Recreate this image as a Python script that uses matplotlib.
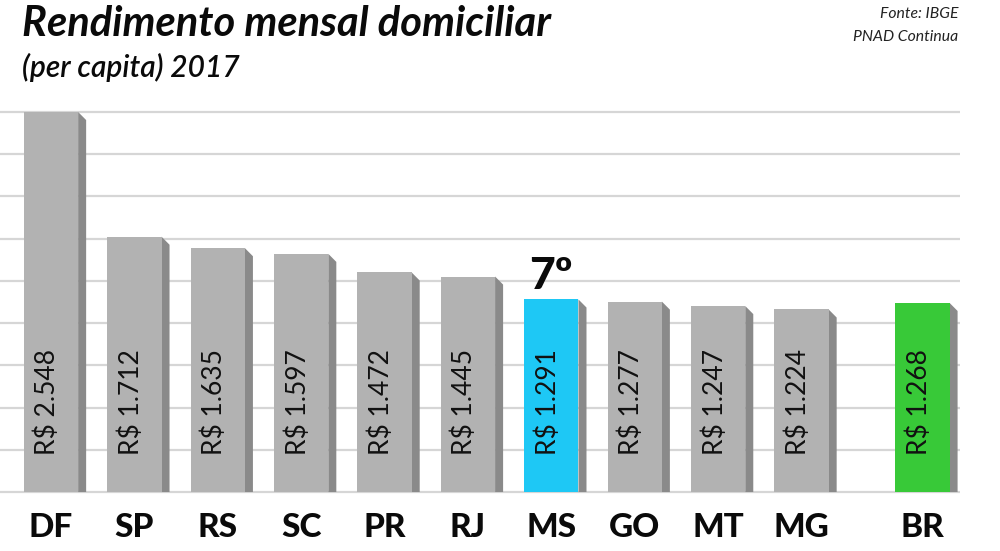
import matplotlib
matplotlib.use("Agg")
import matplotlib.pyplot as plt
from matplotlib.patches import Polygon, Rectangle
import numpy as np

states = ['DF', 'SP', 'RS', 'SC', 'PR', 'RJ', 'MS', 'GO', 'MT', 'MG', 'BR']
values = [2548, 1712, 1635, 1597, 1472, 1445, 1291, 1277, 1247, 1224, 1268]
positions = [0, 1, 2, 3, 4, 5, 6, 7, 8, 9, 10.45]
highlight = {'MS': '#1ec8f5', 'BR': '#38c938'}
rank_label = ('MS', '7º')

GREY = '#b2b2b2'
SIDE = '#8a8a8a'
GRID = '#d6d6d6'

fig = plt.figure(figsize=(10, 5.51), dpi=100)
ax = fig.add_axes([0.0, 0.0989, 0.96, 0.7119])
ax.set_xlim(-0.612, 10.90)
ax.set_ylim(-30, 2600)

ax.set_yticks(np.linspace(0, 2548, 10))
ax.yaxis.grid(True, color=GRID, linewidth=1.6, zorder=0)
ax.set_axisbelow(True)
ax.tick_params(axis='y', length=0, labelleft=False)
for s in ax.spines.values():
    s.set_visible(False)

w = 0.65
dx = 0.096
dy = 54
for st, v, x in zip(states, values, positions):
    face = highlight.get(st, GREY)
    xl = x - w / 2
    xr = x + w / 2
    ax.add_patch(Polygon([(xr, v), (xr + dx, v - dy), (xr + dx, 0), (xr, 0)],
                         closed=True, facecolor=SIDE, edgecolor='none', zorder=2))
    ax.add_patch(Rectangle((xl, 0), w, v, facecolor=face, edgecolor='none', zorder=3))
    label = 'R$ ' + f'{v:,}'.replace(',', '.')
    ax.text(x - 0.04, 250, label, rotation=90, rotation_mode='anchor',
            ha='left', va='center', fontsize=19, family='Lato',
            color='#111111', zorder=4)
    if st == rank_label[0]:
        ax.text(x, v + 25, rank_label[1], ha='center', va='bottom',
                fontsize=32, family='Lato', fontweight='black', color='#0a0a0a', zorder=4)

ax.set_xticks(positions)
ax.set_xticklabels(states, fontsize=24, family='Lato', fontweight='black', color='#0a0a0a')
ax.tick_params(axis='x', length=0, pad=12)

fig.text(0.022, 0.956, 'Rendimento mensal domiciliar', ha='left', va='center',
         fontsize=30, family='Lato', fontweight='bold', style='italic', color='#0a0a0a')
fig.text(0.022, 0.877, '(per capita) 2017', ha='left', va='center',
         fontsize=21.5, family='Lato', fontweight='semibold', style='italic', color='#0a0a0a')
fig.text(0.958, 0.975, 'Fonte: IBGE', ha='right', va='center',
         fontsize=11.3, family='Lato', style='italic', color='#222222')
fig.text(0.958, 0.932, 'PNAD Continua', ha='right', va='center',
         fontsize=11.3, family='Lato', style='italic', color='#222222')

fig.savefig('out.png', dpi=100, facecolor='white')
